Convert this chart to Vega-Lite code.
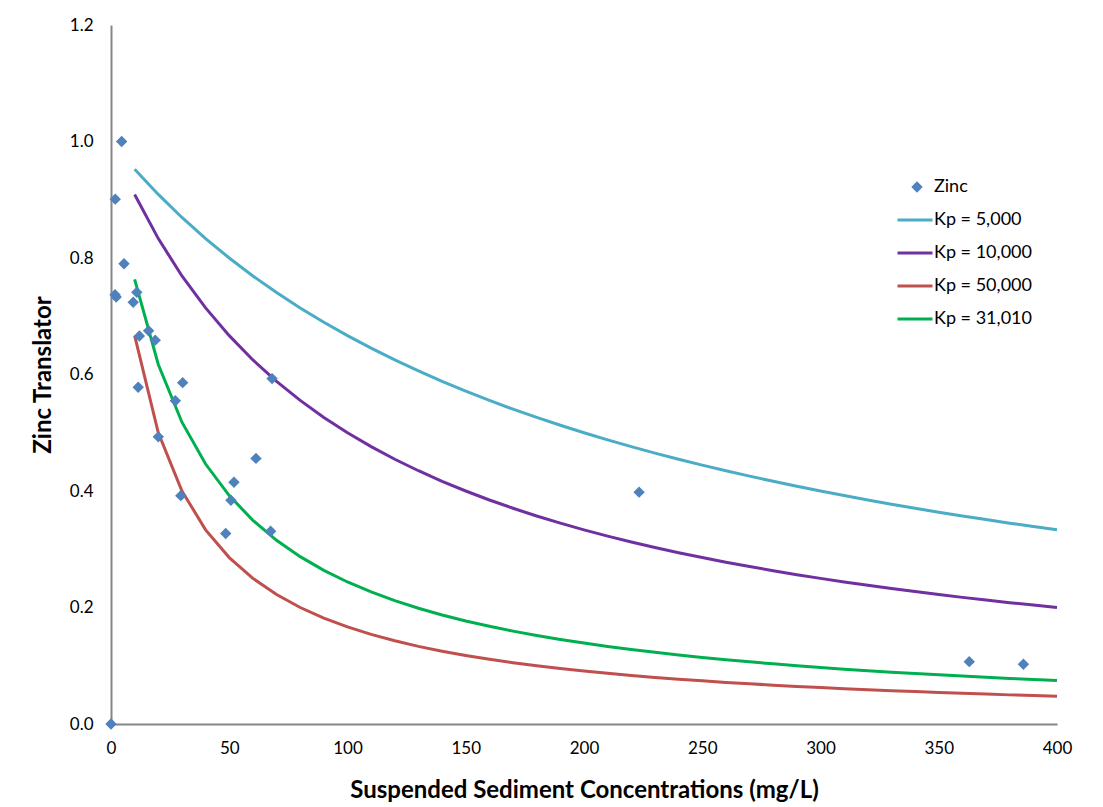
{
  "$schema": "https://vega.github.io/schema/vega-lite/v6.json",
  "width": 946,
  "height": 699,
  "autosize": {"type": "none"},
  "padding": {"left": 111, "top": 25, "right": 46, "bottom": 83},
  "background": "white",
  "config": {
    "font": "Lato",
    "view": {"stroke": null},
    "axis": {"grid": false, "ticks": false, "labelFlush": false, "domainColor": "#868686", "domainWidth": 2, "labelColor": "#000000", "labelFontSize": 17, "titleColor": "#000000", "titleFontWeight": "bold", "titleFontSize": 24},
    "legend": {"labelFontSize": 18, "labelColor": "#000000"}
  },
  "datasets": {
    "zinc": [
      {"x": 0, "t": 0.0}, {"x": 1.8, "t": 0.901}, {"x": 4.5, "t": 1.0}, {"x": 5.5, "t": 0.79},
      {"x": 1.7, "t": 0.737}, {"x": 2.2, "t": 0.733}, {"x": 10.9, "t": 0.741}, {"x": 9.4, "t": 0.724},
      {"x": 12.0, "t": 0.666}, {"x": 15.9, "t": 0.675}, {"x": 18.7, "t": 0.659}, {"x": 11.5, "t": 0.578},
      {"x": 30.3, "t": 0.586}, {"x": 27.2, "t": 0.555}, {"x": 68.1, "t": 0.593}, {"x": 20.0, "t": 0.493},
      {"x": 61.3, "t": 0.456}, {"x": 52.0, "t": 0.415}, {"x": 29.5, "t": 0.392}, {"x": 50.7, "t": 0.384},
      {"x": 48.5, "t": 0.327}, {"x": 67.5, "t": 0.331}, {"x": 223.3, "t": 0.398}, {"x": 362.9, "t": 0.107},
      {"x": 385.8, "t": 0.1025}
    ],
    "curves": [
      {"s": "Kp = 5,000", "x": 10, "t": 0.9524}, {"s": "Kp = 5,000", "x": 20, "t": 0.9091}, {"s": "Kp = 5,000", "x": 30, "t": 0.8696}, {"s": "Kp = 5,000", "x": 40, "t": 0.8333},
      {"s": "Kp = 5,000", "x": 50, "t": 0.8}, {"s": "Kp = 5,000", "x": 60, "t": 0.7692}, {"s": "Kp = 5,000", "x": 70, "t": 0.7407}, {"s": "Kp = 5,000", "x": 80, "t": 0.7143},
      {"s": "Kp = 5,000", "x": 90, "t": 0.6897}, {"s": "Kp = 5,000", "x": 100, "t": 0.6667}, {"s": "Kp = 5,000", "x": 110, "t": 0.6452}, {"s": "Kp = 5,000", "x": 120, "t": 0.625},
      {"s": "Kp = 5,000", "x": 130, "t": 0.6061}, {"s": "Kp = 5,000", "x": 140, "t": 0.5882}, {"s": "Kp = 5,000", "x": 150, "t": 0.5714}, {"s": "Kp = 5,000", "x": 160, "t": 0.5556},
      {"s": "Kp = 5,000", "x": 170, "t": 0.5405}, {"s": "Kp = 5,000", "x": 180, "t": 0.5263}, {"s": "Kp = 5,000", "x": 190, "t": 0.5128}, {"s": "Kp = 5,000", "x": 200, "t": 0.5},
      {"s": "Kp = 5,000", "x": 210, "t": 0.4878}, {"s": "Kp = 5,000", "x": 220, "t": 0.4762}, {"s": "Kp = 5,000", "x": 230, "t": 0.4651}, {"s": "Kp = 5,000", "x": 240, "t": 0.4545},
      {"s": "Kp = 5,000", "x": 250, "t": 0.4444}, {"s": "Kp = 5,000", "x": 260, "t": 0.4348}, {"s": "Kp = 5,000", "x": 270, "t": 0.4255}, {"s": "Kp = 5,000", "x": 280, "t": 0.4167},
      {"s": "Kp = 5,000", "x": 290, "t": 0.4082}, {"s": "Kp = 5,000", "x": 300, "t": 0.4}, {"s": "Kp = 5,000", "x": 310, "t": 0.3922}, {"s": "Kp = 5,000", "x": 320, "t": 0.3846},
      {"s": "Kp = 5,000", "x": 330, "t": 0.3774}, {"s": "Kp = 5,000", "x": 340, "t": 0.3704}, {"s": "Kp = 5,000", "x": 350, "t": 0.3636}, {"s": "Kp = 5,000", "x": 360, "t": 0.3571},
      {"s": "Kp = 5,000", "x": 370, "t": 0.3509}, {"s": "Kp = 5,000", "x": 380, "t": 0.3448}, {"s": "Kp = 5,000", "x": 390, "t": 0.339}, {"s": "Kp = 5,000", "x": 400, "t": 0.3333},

      {"s": "Kp = 10,000", "x": 10, "t": 0.9091}, {"s": "Kp = 10,000", "x": 20, "t": 0.8333}, {"s": "Kp = 10,000", "x": 30, "t": 0.7692}, {"s": "Kp = 10,000", "x": 40, "t": 0.7143},
      {"s": "Kp = 10,000", "x": 50, "t": 0.6667}, {"s": "Kp = 10,000", "x": 60, "t": 0.625}, {"s": "Kp = 10,000", "x": 70, "t": 0.5882}, {"s": "Kp = 10,000", "x": 80, "t": 0.5556},
      {"s": "Kp = 10,000", "x": 90, "t": 0.5263}, {"s": "Kp = 10,000", "x": 100, "t": 0.5}, {"s": "Kp = 10,000", "x": 110, "t": 0.4762}, {"s": "Kp = 10,000", "x": 120, "t": 0.4545},
      {"s": "Kp = 10,000", "x": 130, "t": 0.4348}, {"s": "Kp = 10,000", "x": 140, "t": 0.4167}, {"s": "Kp = 10,000", "x": 150, "t": 0.4}, {"s": "Kp = 10,000", "x": 160, "t": 0.3846},
      {"s": "Kp = 10,000", "x": 170, "t": 0.3704}, {"s": "Kp = 10,000", "x": 180, "t": 0.3571}, {"s": "Kp = 10,000", "x": 190, "t": 0.3448}, {"s": "Kp = 10,000", "x": 200, "t": 0.3333},
      {"s": "Kp = 10,000", "x": 210, "t": 0.3226}, {"s": "Kp = 10,000", "x": 220, "t": 0.3125}, {"s": "Kp = 10,000", "x": 230, "t": 0.303}, {"s": "Kp = 10,000", "x": 240, "t": 0.2941},
      {"s": "Kp = 10,000", "x": 250, "t": 0.2857}, {"s": "Kp = 10,000", "x": 260, "t": 0.2778}, {"s": "Kp = 10,000", "x": 270, "t": 0.2703}, {"s": "Kp = 10,000", "x": 280, "t": 0.2632},
      {"s": "Kp = 10,000", "x": 290, "t": 0.2564}, {"s": "Kp = 10,000", "x": 300, "t": 0.25}, {"s": "Kp = 10,000", "x": 310, "t": 0.2439}, {"s": "Kp = 10,000", "x": 320, "t": 0.2381},
      {"s": "Kp = 10,000", "x": 330, "t": 0.2326}, {"s": "Kp = 10,000", "x": 340, "t": 0.2273}, {"s": "Kp = 10,000", "x": 350, "t": 0.2222}, {"s": "Kp = 10,000", "x": 360, "t": 0.2174},
      {"s": "Kp = 10,000", "x": 370, "t": 0.2128}, {"s": "Kp = 10,000", "x": 380, "t": 0.2083}, {"s": "Kp = 10,000", "x": 390, "t": 0.2041}, {"s": "Kp = 10,000", "x": 400, "t": 0.2},

      {"s": "Kp = 50,000", "x": 10, "t": 0.6667}, {"s": "Kp = 50,000", "x": 20, "t": 0.5}, {"s": "Kp = 50,000", "x": 30, "t": 0.4}, {"s": "Kp = 50,000", "x": 40, "t": 0.3333},
      {"s": "Kp = 50,000", "x": 50, "t": 0.2857}, {"s": "Kp = 50,000", "x": 60, "t": 0.25}, {"s": "Kp = 50,000", "x": 70, "t": 0.2222}, {"s": "Kp = 50,000", "x": 80, "t": 0.2},
      {"s": "Kp = 50,000", "x": 90, "t": 0.1818}, {"s": "Kp = 50,000", "x": 100, "t": 0.1667}, {"s": "Kp = 50,000", "x": 110, "t": 0.1538}, {"s": "Kp = 50,000", "x": 120, "t": 0.1429},
      {"s": "Kp = 50,000", "x": 130, "t": 0.1333}, {"s": "Kp = 50,000", "x": 140, "t": 0.125}, {"s": "Kp = 50,000", "x": 150, "t": 0.1176}, {"s": "Kp = 50,000", "x": 160, "t": 0.1111},
      {"s": "Kp = 50,000", "x": 170, "t": 0.1053}, {"s": "Kp = 50,000", "x": 180, "t": 0.1}, {"s": "Kp = 50,000", "x": 190, "t": 0.0952}, {"s": "Kp = 50,000", "x": 200, "t": 0.0909},
      {"s": "Kp = 50,000", "x": 210, "t": 0.087}, {"s": "Kp = 50,000", "x": 220, "t": 0.0833}, {"s": "Kp = 50,000", "x": 230, "t": 0.08}, {"s": "Kp = 50,000", "x": 240, "t": 0.0769},
      {"s": "Kp = 50,000", "x": 250, "t": 0.0741}, {"s": "Kp = 50,000", "x": 260, "t": 0.0714}, {"s": "Kp = 50,000", "x": 270, "t": 0.069}, {"s": "Kp = 50,000", "x": 280, "t": 0.0667},
      {"s": "Kp = 50,000", "x": 290, "t": 0.0645}, {"s": "Kp = 50,000", "x": 300, "t": 0.0625}, {"s": "Kp = 50,000", "x": 310, "t": 0.0606}, {"s": "Kp = 50,000", "x": 320, "t": 0.0588},
      {"s": "Kp = 50,000", "x": 330, "t": 0.0571}, {"s": "Kp = 50,000", "x": 340, "t": 0.0556}, {"s": "Kp = 50,000", "x": 350, "t": 0.0541}, {"s": "Kp = 50,000", "x": 360, "t": 0.0526},
      {"s": "Kp = 50,000", "x": 370, "t": 0.0513}, {"s": "Kp = 50,000", "x": 380, "t": 0.05}, {"s": "Kp = 50,000", "x": 390, "t": 0.0488}, {"s": "Kp = 50,000", "x": 400, "t": 0.0476},

      {"s": "Kp = 31,010", "x": 10, "t": 0.7633}, {"s": "Kp = 31,010", "x": 20, "t": 0.6172}, {"s": "Kp = 31,010", "x": 30, "t": 0.5181}, {"s": "Kp = 31,010", "x": 40, "t": 0.4463},
      {"s": "Kp = 31,010", "x": 50, "t": 0.3921}, {"s": "Kp = 31,010", "x": 60, "t": 0.3496}, {"s": "Kp = 31,010", "x": 70, "t": 0.3154}, {"s": "Kp = 31,010", "x": 80, "t": 0.2873},
      {"s": "Kp = 31,010", "x": 90, "t": 0.2638}, {"s": "Kp = 31,010", "x": 100, "t": 0.2438}, {"s": "Kp = 31,010", "x": 110, "t": 0.2267}, {"s": "Kp = 31,010", "x": 120, "t": 0.2118},
      {"s": "Kp = 31,010", "x": 130, "t": 0.1988}, {"s": "Kp = 31,010", "x": 140, "t": 0.1872}, {"s": "Kp = 31,010", "x": 150, "t": 0.1769}, {"s": "Kp = 31,010", "x": 160, "t": 0.1677},
      {"s": "Kp = 31,010", "x": 170, "t": 0.1594}, {"s": "Kp = 31,010", "x": 180, "t": 0.1519}, {"s": "Kp = 31,010", "x": 190, "t": 0.1451}, {"s": "Kp = 31,010", "x": 200, "t": 0.1389},
      {"s": "Kp = 31,010", "x": 210, "t": 0.1331}, {"s": "Kp = 31,010", "x": 220, "t": 0.1278}, {"s": "Kp = 31,010", "x": 230, "t": 0.123}, {"s": "Kp = 31,010", "x": 240, "t": 0.1184},
      {"s": "Kp = 31,010", "x": 250, "t": 0.1143}, {"s": "Kp = 31,010", "x": 260, "t": 0.1103}, {"s": "Kp = 31,010", "x": 270, "t": 0.1067}, {"s": "Kp = 31,010", "x": 280, "t": 0.1033},
      {"s": "Kp = 31,010", "x": 290, "t": 0.1001}, {"s": "Kp = 31,010", "x": 300, "t": 0.0971}, {"s": "Kp = 31,010", "x": 310, "t": 0.0942}, {"s": "Kp = 31,010", "x": 320, "t": 0.0915},
      {"s": "Kp = 31,010", "x": 330, "t": 0.089}, {"s": "Kp = 31,010", "x": 340, "t": 0.0866}, {"s": "Kp = 31,010", "x": 350, "t": 0.0844}, {"s": "Kp = 31,010", "x": 360, "t": 0.0822},
      {"s": "Kp = 31,010", "x": 370, "t": 0.0802}, {"s": "Kp = 31,010", "x": 380, "t": 0.0782}, {"s": "Kp = 31,010", "x": 390, "t": 0.0764}, {"s": "Kp = 31,010", "x": 400, "t": 0.0746}
    ]
  },
  "layer": [
    {
      "data": {"name": "curves"},
      "mark": {"type": "line", "strokeWidth": 3, "clip": false},
      "encoding": {
        "x": {"field": "x", "type": "quantitative", "scale": {"domain": [0, 400], "nice": false}, "axis": {"values": [0, 50, 100, 150, 200, 250, 300, 350, 400], "labelPadding": 16, "title": "Suspended Sediment Concentrations (mg/L)", "titlePadding": 22}},
        "y": {"field": "t", "type": "quantitative", "scale": {"domain": [0, 1.2], "nice": false}, "axis": {"values": [0, 0.2, 0.4, 0.6, 0.8, 1.0, 1.2], "format": ".1f", "labelPadding": 18, "title": "Zinc Translator", "titlePadding": 14}},
        "color": {"field": "s", "type": "nominal", "scale": {"domain": ["Kp = 5,000", "Kp = 10,000", "Kp = 50,000", "Kp = 31,010"], "range": ["#4BACC6", "#7030A0", "#C0504D", "#00B050"]},
          "legend": {"title": null, "orient": "none", "legendX": 785, "legendY": 176, "symbolType": "stroke", "symbolStrokeWidth": 3, "symbolSize": 1225, "labelOffset": 0, "rowPadding": 5}}
      }
    },
    {
      "data": {"name": "zinc"},
      "mark": {"type": "point", "shape": "diamond", "filled": true, "color": "#4F81BD", "opacity": 1, "size": 130, "clip": false},
      "encoding": {
        "x": {"field": "x", "type": "quantitative"},
        "y": {"field": "t", "type": "quantitative"},
        "shape": {"datum": "Zinc", "type": "nominal", "scale": {"domain": ["Zinc"], "range": ["diamond"]},
          "legend": {"title": null, "orient": "none", "legendX": 797, "legendY": 153, "symbolFillColor": "#4F81BD", "symbolStrokeColor": "#4F81BD", "symbolStrokeWidth": 0, "symbolOpacity": 1, "symbolSize": 130, "labelOffset": 8}}
      }
    }
  ]
}
